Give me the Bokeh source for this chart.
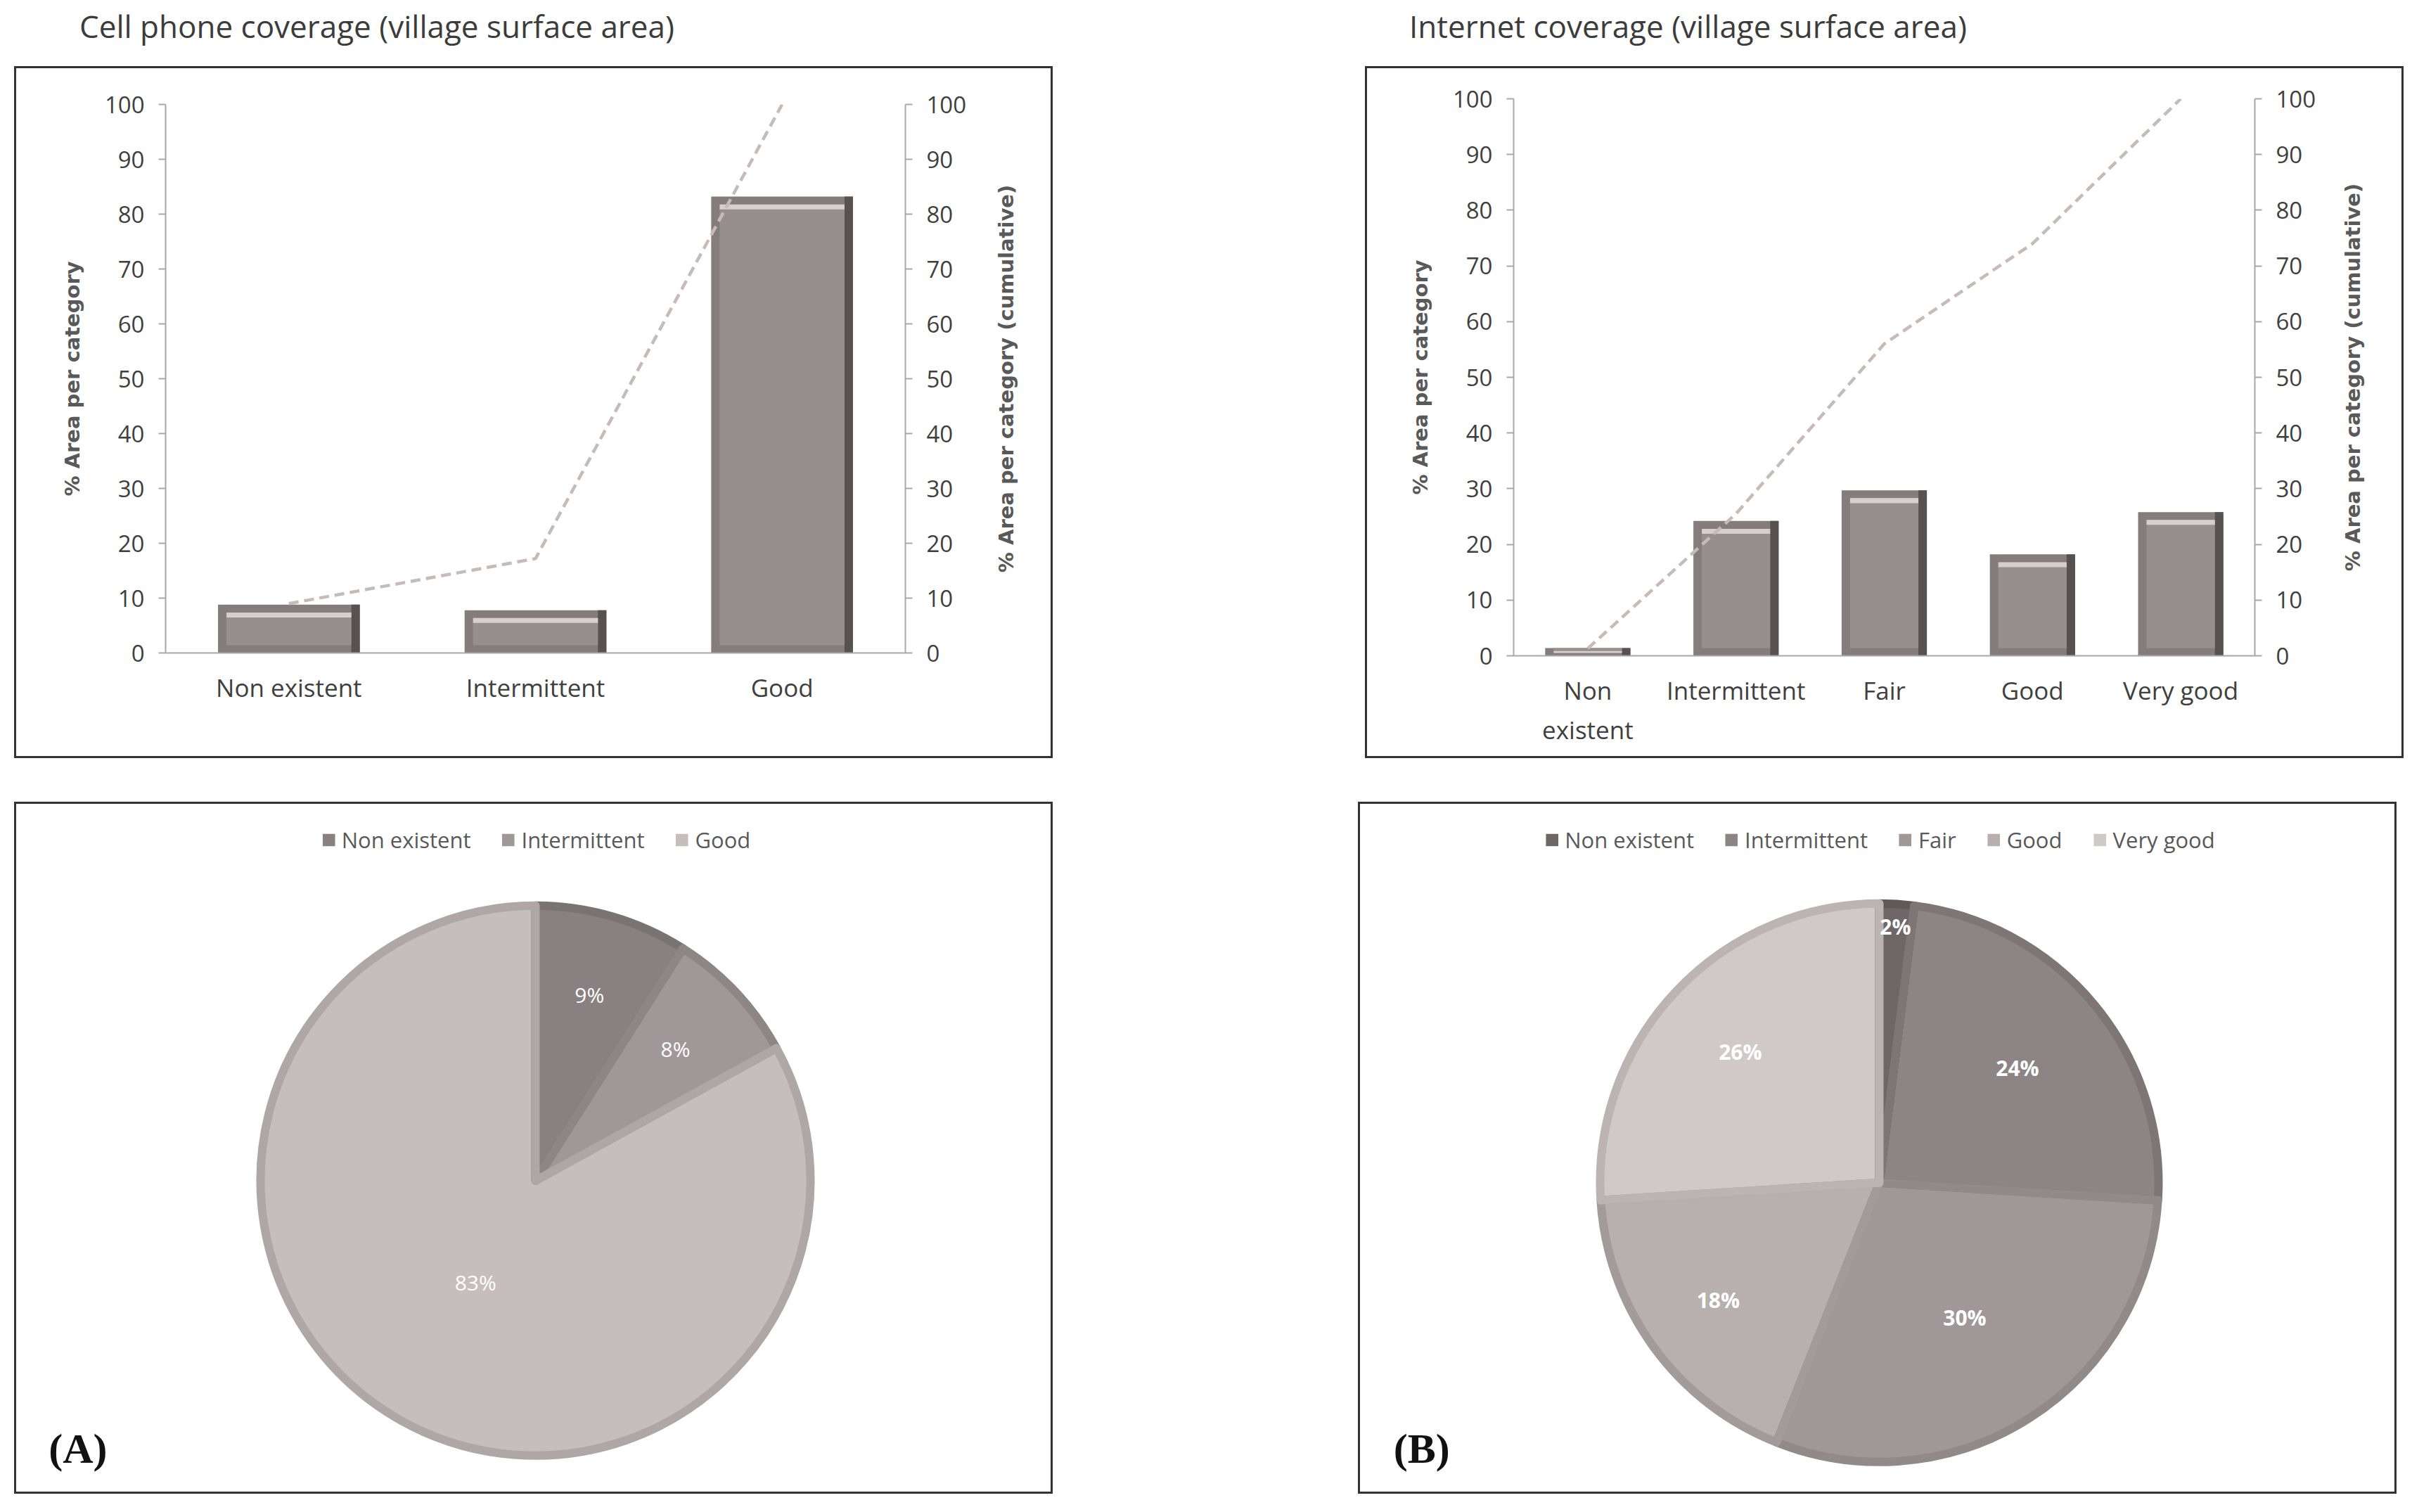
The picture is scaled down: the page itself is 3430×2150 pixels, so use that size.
import math
import numpy as np
from bokeh.plotting import figure
from bokeh.models import (Range1d, FactorRange, LinearAxis, FixedTicker, Label, Legend,
                          LegendItem, Div, Spacer, ColumnDataSource)
from bokeh.layouts import column, row
from bokeh.transform import dodge
from bokeh.embed import file_html
from bokeh.resources import INLINE
from bokeh.core.properties import value

# ---------------- data ----------------
title_a = "Cell phone coverage (village surface area)"
title_b = "Internet coverage (village surface area)"
cats_a = ["Non existent", "Intermittent", "Good"]
bars_a = [8.8, 7.8, 83.2]
cum_a = [9.0, 17.2, 100.0]
pie_a = [9, 8, 83]
cats_b = ["Non existent", "Intermittent", "Fair", "Good", "Very good"]
bars_b = [1.4, 24.2, 29.7, 18.2, 25.8]
cum_b = [1.3, 25.5, 56.0, 74.0, 100.0]
pie_b = [2, 24, 30, 18, 26]
y_ticks = list(range(0, 101, 10))
y_label = "% Area per category"
y2_label = "% Area per category (cumulative)"
panel_labels = ["(A)", "(B)"]

# ---------------- style ----------------
FONT = "Open Sans"
BOLDFONT = "DejaVu Sans"
SERIF = "Liberation Serif"
B = 3                        # css border width (border-box)
BOX_W, BOX_H = 1477, 984     # outer box size incl. border
AXIS_COL = "#a8a8a8"
TXT_COL = "#404040"
LINE = f"{B}px solid #333333"


def style_axis(ax, size="33px"):
    ax.axis_line_color = AXIS_COL
    ax.axis_line_width = 2
    ax.major_tick_line_color = AXIS_COL
    ax.major_tick_line_width = 2
    ax.major_tick_out = 10
    ax.major_tick_in = 0
    ax.minor_tick_line_color = None
    ax.major_label_text_font = FONT
    ax.major_label_text_font_size = size
    ax.major_label_text_color = TXT_COL
    ax.major_label_standoff = 20
    ax.axis_label_text_font = BOLDFONT
    ax.axis_label_text_font_style = "bold"
    ax.axis_label_text_font_size = "29px"
    ax.axis_label_text_color = "#595959"
    ax.axis_label_standoff = 26


def bar_panel(cats, vals, cums, FL, FR, FT, FB, MW, y2_center, plabel, lab_x, lab_y):
    """FL/FR/FT/FB: frame edges relative to the outer box; MW: width of main figure."""
    xf = ["Non\nexistent" if (c == "Non existent" and len(cats) > 3) else c for c in cats]
    bl, br = FL - B, MW - FR
    bt, bb = FT - B, (BOX_H - B) - FB
    p = figure(x_range=FactorRange(*xf), y_range=Range1d(0, 100), width=MW, height=BOX_H,
               output_backend="svg", toolbar_location=None,
               min_border_left=bl, min_border_right=br, min_border_top=bt, min_border_bottom=bb)
    p.extra_y_ranges = {"cum": Range1d(0, 100)}
    p.outline_line_color = None
    p.grid.visible = False
    p.border_fill_color = "white"
    p.background_fill_color = "white"
    p.styles = {"border-top": LINE, "border-bottom": LINE, "border-left": LINE}

    fw = FR - FL
    fh = FB - FT
    n = len(cats)
    bx = 12.0 / (fw / n)          # bevel width in category units
    by = 11.0 / (fh / 100.0)      # bevel height in value units
    hh = 7.0 / (fh / 100.0)
    bw = 0.575
    v = np.array(vals, float)
    body_top = np.maximum(v - by, np.minimum(v, by))
    body_bot = np.minimum(by, v * 0.5)
    hi_top = np.maximum(v - by, v * 0.6)
    hi_bot = np.maximum(v - by - hh, v * 0.35)
    src = ColumnDataSource(dict(x=xf, top=v, body_top=body_top, body_bot=body_bot,
                                hi_top=hi_top, hi_bot=hi_bot))
    p.vbar(x="x", top="top", bottom=0, width=bw, source=src, fill_color="#857d7d", line_color=None)
    p.vbar(x=dodge("x", bw / 2 - bx / 2, range=p.x_range), top="top", bottom=0, width=bx,
           source=src, fill_color="#585151", line_color=None)
    p.vbar(x="x", top="body_top", bottom="body_bot", width=bw - 2 * bx, source=src,
           fill_color="#978f8f", line_color=None)
    p.vbar(x="x", top="hi_top", bottom="hi_bot", width=bw - 2 * bx, source=src,
           fill_color="#d6cfce", line_color=None)
    p.line(x=xf, y=cums, y_range_name="cum", line_color="#c6baba", line_width=4.5,
           line_dash="14 8")

    yax = p.yaxis[0]
    style_axis(yax)
    yax.ticker = FixedTicker(ticks=y_ticks)
    yax.axis_label = y_label

    right = LinearAxis(y_range_name="cum", ticker=FixedTicker(ticks=y_ticks))
    style_axis(right)
    p.add_layout(right, "right")

    xax = p.xaxis[0]
    xax.axis_line_color = AXIS_COL
    xax.axis_line_width = 2
    xax.major_tick_line_color = None
    xax.minor_tick_line_color = None
    xax.major_label_text_font = FONT
    xax.major_label_text_font_size = "35px"
    xax.major_label_text_color = TXT_COL
    xax.major_label_standoff = 19

    p.add_layout(Label(x=lab_x, y=lab_y, x_units="screen", y_units="screen", text=plabel,
                       text_font=SERIF, text_font_style="bold", text_font_size="60px",
                       text_color="#111111", text_align="center", text_baseline="middle"))

    # side strip carrying the secondary axis title (reads bottom to top, like the reference)
    SW = BOX_W - MW
    L = 60
    standoff = int(round(L - 17 - (y2_center - MW)))
    s = figure(width=SW, height=BOX_H, x_range=Range1d(0, 1), y_range=Range1d(0, 100),
               output_backend="svg", toolbar_location=None,
               min_border_left=L, min_border_right=0, min_border_top=bt, min_border_bottom=bb)
    s.xaxis.visible = False
    s.grid.visible = False
    s.outline_line_color = None
    s.border_fill_color = "white"
    s.background_fill_color = "white"
    s.styles = {"border-top": LINE, "border-bottom": LINE, "border-right": LINE}
    sax = s.yaxis[0]
    sax.ticker = FixedTicker(ticks=[])
    sax.axis_line_color = None
    sax.major_tick_line_color = None
    sax.minor_tick_line_color = None
    sax.major_label_text_font_size = "0px"
    sax.axis_label = y2_label
    sax.axis_label_text_font = BOLDFONT
    sax.axis_label_text_font_style = "bold"
    sax.axis_label_text_font_size = "29px"
    sax.axis_label_text_color = "#595959"
    sax.axis_label_standoff = standoff
    return row(p, s)


def pie_fig(cats, vals, fills, borders, cx, cy, radius, fracs, bold, plabel):
    W, H = BOX_W - 2 * B, BOX_H - 2 * B
    p = figure(width=BOX_W, height=BOX_H, x_range=Range1d(0, W), y_range=Range1d(0, H),
               output_backend="svg", toolbar_location=None, min_border=0)
    p.axis.visible = False
    p.grid.visible = False
    p.outline_line_color = None
    p.border_fill_color = "white"
    p.styles = {"border": LINE}

    fr = np.array(vals, float) / float(sum(vals))
    c1 = np.cumsum(fr)
    c0 = c1 - fr
    start = np.pi / 2 - 2 * np.pi * c1
    end = np.pi / 2 - 2 * np.pi * c0
    mid = (start + end) / 2
    ccx, ccy = cx, H - cy
    src = ColumnDataSource(dict(cat=cats, start=start, end=end, fill=fills, border=borders))
    lw = 12
    rfill = p.wedge(x=ccx, y=ccy, radius=radius - lw / 2, radius_units="screen",
                    start_angle="start", end_angle="end", fill_color="fill", line_color=None,
                    source=src)
    p.wedge(x=ccx, y=ccy, radius=radius - lw / 2, radius_units="screen",
            start_angle="start", end_angle="end", fill_color=None, line_color="border",
            line_width=lw, line_join="round", source=src)

    fr_arr = np.array(fracs)
    lx = ccx + fr_arr * radius * np.cos(mid)
    ly = ccy + fr_arr * radius * np.sin(mid)
    p.text(x=lx, y=ly, text=[f"{v}%" for v in vals], text_color="white",
           text_font=value(FONT), text_font_size="30px",
           text_font_style="bold" if bold else "normal",
           text_align="center", text_baseline="middle")

    items = [LegendItem(label=c, renderers=[rfill], index=i) for i, c in enumerate(cats)]
    leg = Legend(items=items, orientation="horizontal", location="top_center",
                 label_text_font=FONT, label_text_font_size="31px", label_text_color="#595959",
                 glyph_width=22, glyph_height=22, label_standoff=8, spacing=42,
                 padding=0, margin=30, border_line_color=None, background_fill_alpha=0)
    p.add_layout(leg, "center")

    p.add_layout(Label(x=87, y=67, text=plabel, text_font=SERIF, text_font_style="bold",
                       text_font_size="60px", text_color="#111111", text_align="center",
                       text_baseline="middle"))
    return p


def title_div(text, pad):
    html = (f'<div style="font-family:\'Open Sans\';font-size:44px;color:#3c3c3c;'
            f'padding-left:{pad}px;padding-top:3px;line-height:58px;white-space:nowrap;">{text}</div>')
    return Div(text=html, width=BOX_W, height=84)


panelA = bar_panel(cats_a, bars_a, cum_a, 215, 1264, 54, 828, 1380, 1410,
                   panel_labels[0], -125, -93)
panelB = bar_panel(cats_b, bars_b, cum_b, 211, 1262, 46, 832, 1370, 1404,
                   panel_labels[1], -137, -88)

pieA = pie_fig(cats_a, pie_a,
               ["#898181", "#a09898", "#c5bebd"],
               ["#7a7373", "#8e8686", "#afa7a7"],
               735, 532, 397, [0.69, 0.685, 0.42], False, panel_labels[0])
pieB = pie_fig(cats_b, pie_b,
               ["#6f6767", "#8d8585", "#a09898", "#b7b0af", "#cfc9c8"],
               ["#615959", "#7e7676", "#928a8a", "#a39b9b", "#bbb4b3"],
               735, 535, 403, [0.9, 0.63, 0.56, 0.70, 0.67], True, panel_labels[1])

top = row(Spacer(width=20, height=10), column(title_div(title_a, 88), panelA),
          Spacer(width=434, height=10), column(title_div(title_b, 58), panelB))
bottom = row(Spacer(width=20, height=10), pieA, Spacer(width=434, height=10), pieB)
layout = column(top, Spacer(width=10, height=62), bottom)

open("out.html", "w").write(file_html(layout, INLINE))
